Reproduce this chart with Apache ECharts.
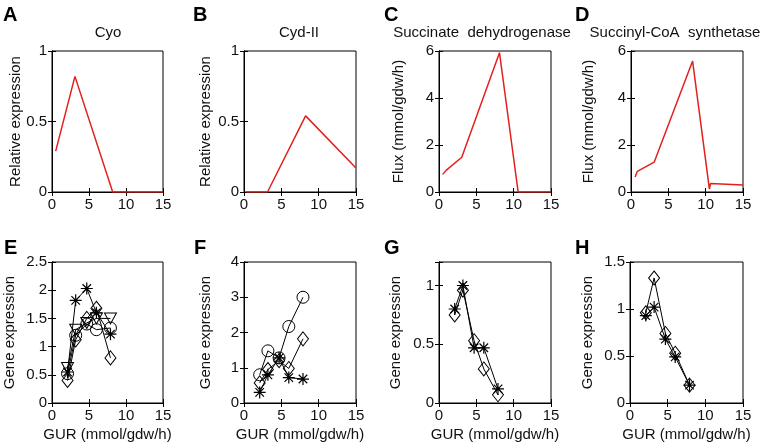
<!DOCTYPE html>
<html><head><meta charset="utf-8">
<script src="https://cdn.jsdelivr.net/npm/echarts@6/dist/echarts.min.js"></script>
<style>html,body{margin:0;padding:0;background:#fff}#c{width:762px;height:447px}</style>
</head><body><div id="c"></div>
<script>
// ---------- data ----------
const xA = [0.5, 3.1, 8.2, 15];
const yA = [0.29, 0.82, 0, 0];
const xB = [0.3, 3.15, 8.25, 15];
const yB = [0, 0, 0.54, 0.17];
const xC = [0.5, 0.95, 3.05, 8.1, 10.6, 15];
const yC = [0.75, 0.92, 1.48, 5.93, 0, 0];
const xD = [0.55, 0.85, 3.1, 8.25, 10.5, 10.65, 15];
const yD = [0.64, 0.88, 1.27, 5.57, 0.12, 0.36, 0.3];

const gur = [2.1, 3.2, 4.7, 6.0, 7.9];
const eCircle  = [0.52, 1.2, 1.4, 1.3, 1.33];
const eStar    = [0.55, 1.82, 2.03, 1.6, 1.22];
const eTri     = [0.62, 1.3, 1.42, 1.5, 1.5];
const eDiamond = [0.4, 1.12, 1.5, 1.68, 0.8];
const fCircle  = [0.8, 1.48, 1.28, 2.17, 3.0];
const fDiamond = [0.57, 0.95, 1.2, 0.98, 1.82];
const fStar    = [0.3, 0.8, 1.28, 0.72, 0.68];
const gStar    = [0.8, 1.0, 0.47, 0.47, 0.12];
const gDiamond = [0.75, 0.96, 0.53, 0.29, 0.07];
const hDiamond = [0.96, 1.33, 0.74, 0.53, 0.19];
const hStar    = [0.93, 1.02, 0.68, 0.49, 0.19];

const panelLetters = ['A','B','C','D','E','F','G','H'];
const topTitles = ['Cyo', 'Cyd-II', 'Succinate  dehydrogenase', 'Succinyl-CoA  synthetase'];
const yNames = ['Relative expression','Relative expression','Flux (mmol/gdw/h)','Flux (mmol/gdw/h)',
                'Gene expression','Gene expression','Gene expression','Gene expression'];
const xName = 'GUR (mmol/gdw/h)';
const xTicks = {min: 0, max: 15, interval: 5};
const yTicks = [
  {min: 0, max: 1, interval: 0.5},
  {min: 0, max: 1, interval: 0.5},
  {min: 0, max: 6, interval: 2},
  {min: 0, max: 6, interval: 2},
  {min: 0, max: 2.5, interval: 0.5},
  {min: 0, max: 4, interval: 1},
  {min: 0, max: 1.2, interval: 0.5},
  {min: 0, max: 1.5, interval: 0.5}
];

// ---------- layout ----------
const FONT = 'Liberation Sans, Arial, Helvetica, sans-serif';
const grids = [
  [52, 51, 111, 141], [244, 51, 112, 141], [439, 51, 112, 141], [631, 51, 112, 141],
  [52, 262, 111, 141], [244, 262, 112, 141], [439, 262, 112, 141], [630, 262, 113, 141]
];
const letterPos = [[3, 5], [193, 5], [384, 5], [575, 5], [4, 238], [194, 238], [384, 238], [575, 238]];
const titleCenters = [108, 299, 482, 675];
const yNameX = [16, 206, 399, 589, 10, 206, 396, 588];

const STAR = 'path://M9,0L11,0L11,20L9,20Z M0,9L20,9L20,11L0,11Z M2.2,3.6L3.6,2.2L17.8,16.4L16.4,17.8Z M16.4,2.2L17.8,3.6L3.6,17.8L2.2,16.4Z';

const pairs = (xs, ys) => xs.map((x, i) => [x, ys[i]]);

const option = {
  animation: false,
  grid: [], xAxis: [], yAxis: [], series: [], graphic: []
};

grids.forEach((g, i) => {
  option.grid.push({left: g[0], top: g[1], width: g[2], height: g[3],
    show: true, borderColor: '#000', borderWidth: 1, backgroundColor: '#fff', containLabel: false});
  const yt = yTicks[i];
  const common = {type: 'value', gridIndex: i, splitLine: {show: false},
    axisLine: {show: true, lineStyle: {color: '#000', width: 1}},
    axisTick: {show: true, inside: true, length: 4, lineStyle: {color: '#000'}}};
  option.xAxis.push(Object.assign({}, common, {position: 'bottom', min: xTicks.min, max: xTicks.max, interval: xTicks.interval,
    axisLabel: {color: '#111', fontSize: 15, fontFamily: FONT, margin: 5}}));
  option.xAxis.push(Object.assign({}, common, {position: 'top', min: xTicks.min, max: xTicks.max, interval: xTicks.interval,
    axisLabel: {show: false}}));
  option.yAxis.push(Object.assign({}, common, {position: 'left', min: yt.min, max: yt.max, interval: yt.interval,
    axisLabel: {color: '#111', fontSize: 15, fontFamily: FONT, margin: 5,
      formatter: v => (Math.abs(v / yt.interval - Math.round(v / yt.interval)) < 1e-6 ? String(+v.toFixed(2)) : '')}}));
  option.yAxis.push(Object.assign({}, common, {position: 'right', min: yt.min, max: yt.max, interval: yt.interval,
    axisLabel: {show: false}}));

  option.graphic.push({type: 'text', left: letterPos[i][0], top: letterPos[i][1],
    style: {text: panelLetters[i], font: 'bold 20px ' + FONT, fill: '#000'}});
  option.graphic.push({type: 'text', x: yNameX[i], y: g[1] + g[3] / 2, rotation: Math.PI / 2,
    style: {text: yNames[i], font: '15px ' + FONT, fill: '#111', align: 'center', verticalAlign: 'middle'}});
  if (i < 4) {
    option.graphic.push({type: 'text', x: titleCenters[i], y: 33,
      style: {text: topTitles[i], font: '15px ' + FONT, fill: '#111', align: 'center', verticalAlign: 'middle'}});
  } else {
    option.graphic.push({type: 'text', x: g[0] + g[2] / 2, y: 435,
      style: {text: xName, font: '15px ' + FONT, fill: '#111', align: 'center', verticalAlign: 'middle'}});
  }
});

function redLine(idx, xs, ys) {
  option.series.push({type: 'line', xAxisIndex: idx * 2, yAxisIndex: idx * 2, data: pairs(xs, ys),
    showSymbol: false, lineStyle: {color: '#e3201c', width: 1.5}, itemStyle: {color: '#e3201c'}, z: 3});
}
redLine(0, xA, yA);
redLine(1, xB, yB);
redLine(2, xC, yC);
redLine(3, xD, yD);

const markers = {
  circle:  {symbol: 'circle', symbolSize: 12, symbolRotate: 0},
  diamond: {symbol: 'diamond', symbolSize: [11, 14], symbolRotate: 0},
  tri:     {symbol: 'triangle', symbolSize: [12, 11], symbolRotate: 180},
  star:    {symbol: STAR, symbolSize: 12, symbolRotate: 0}
};
function geneSeries(idx, ys, kind) {
  const m = markers[kind];
  const filled = kind === 'star';
  option.series.push({type: 'line', xAxisIndex: idx * 2, yAxisIndex: idx * 2, data: pairs(gur, ys),
    showSymbol: true, symbol: m.symbol, symbolSize: m.symbolSize, symbolRotate: m.symbolRotate,
    lineStyle: {color: '#000', width: 1},
    itemStyle: filled ? {color: '#000', borderWidth: 0} : {color: 'rgba(255,255,255,0)', borderColor: '#000', borderWidth: 1},
    emphasis: {disabled: true}, z: 3});
}
geneSeries(4, eDiamond, 'diamond');
geneSeries(4, eTri, 'tri');
geneSeries(4, eCircle, 'circle');
geneSeries(4, eStar, 'star');
geneSeries(5, fCircle, 'circle');
geneSeries(5, fDiamond, 'diamond');
geneSeries(5, fStar, 'star');
geneSeries(6, gDiamond, 'diamond');
geneSeries(6, gStar, 'star');
geneSeries(7, hDiamond, 'diamond');
geneSeries(7, hStar, 'star');

const chart = echarts.init(document.getElementById('c'), null, {renderer: 'canvas'});
chart.setOption(option);
</script>
</body></html>
